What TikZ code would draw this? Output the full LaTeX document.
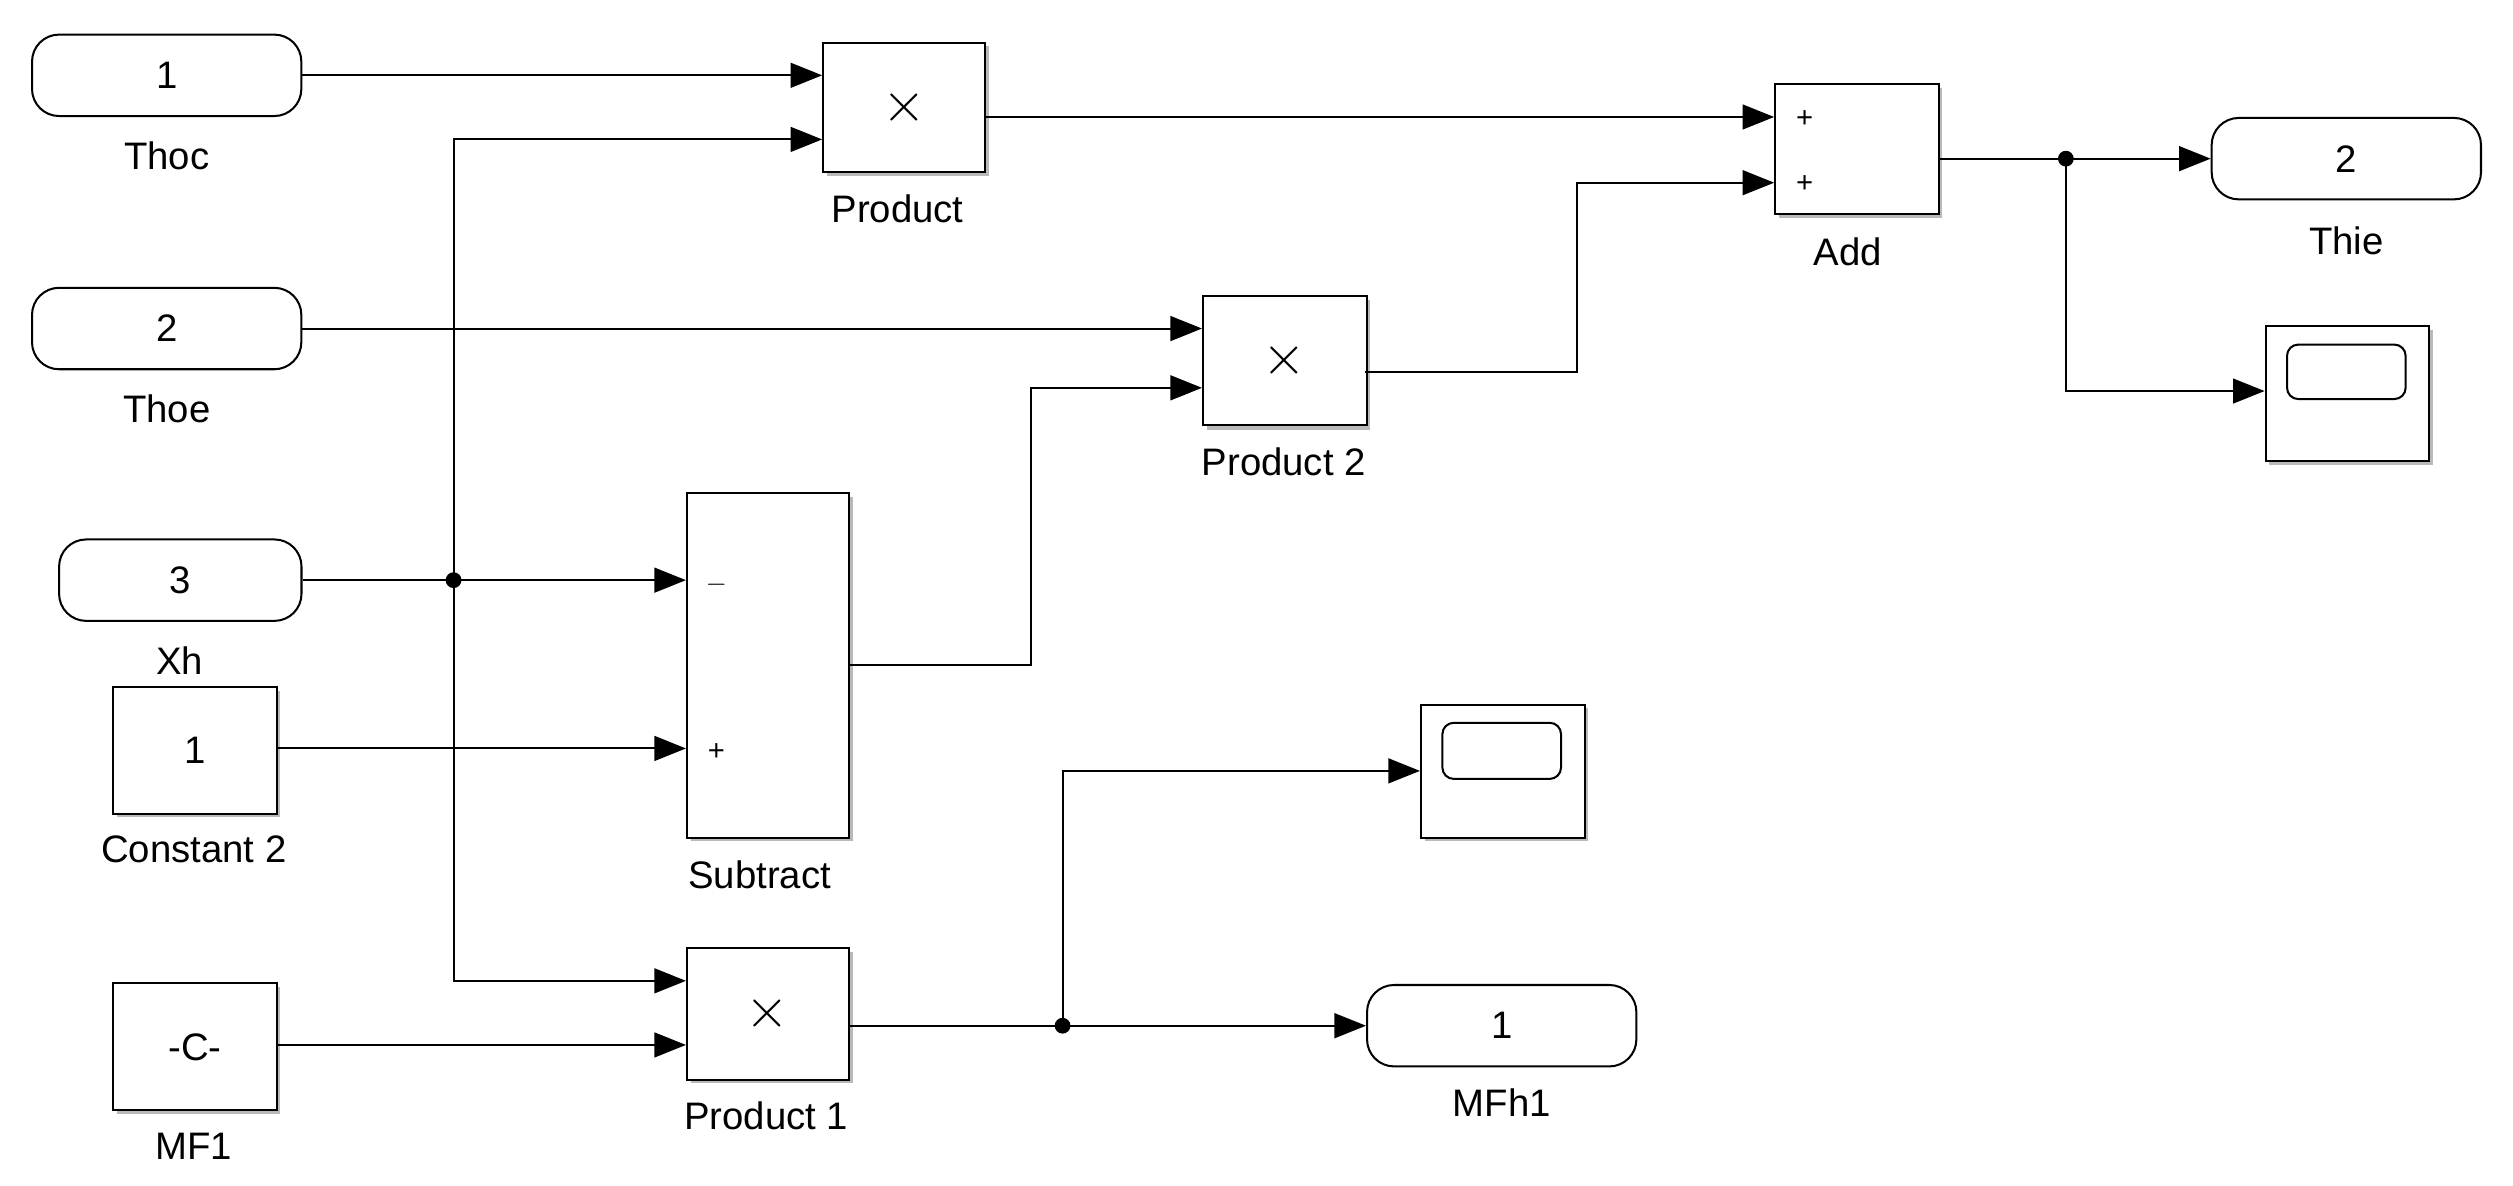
\documentclass[tikz,border=0pt]{standalone}
\usepackage{fontspec}
\setmainfont{Liberation Sans}
\usetikzlibrary{arrows.meta,positioning}
\begin{document}
\begin{tikzpicture}[x=0.025cm,y=-0.025cm,
  font=\fontsize{17}{20}\selectfont,
  blk/.style={draw,line width=0.9pt,fill=white,inner sep=0pt,anchor=north west},
  port/.style={draw,line width=0.9pt,fill=white,rounded corners=12pt,minimum width=4.2cm,minimum height=1.27cm,inner sep=0pt},
  w/.style={line width=0.9pt,-{Triangle[length=14pt,width=11pt]}},
  dot/.style={circle,fill=black,inner sep=0pt,minimum size=7pt},
  lbl/.style={inner sep=0pt},
  mul/.style={font=\fontsize{26}{28}\selectfont}]
\useasboundingbox (0,0) rectangle (1568,740);
\foreach \a/\b/\c/\d in {513/26/614/107,750/184/852/265,428/307/529/522,428/591/529/673,1107/52/1209/133,1413/203/1515/287,886/439/988/522,70/428/172/507,70/613/172/692}
  \fill[gray!55] (\a+3,\b+3) rectangle (\c+3,\d+3);
% inports / outports
\node[port] (thoc) at (104,47) {1};
\node[lbl] (thocl) at (104,97) {Thoc};
\node[port] (thoe) at (104,205) {2};
\node[lbl] (thoel) at (104,255) {Thoe};
\node[port,minimum width=3.78cm] (xh) at (112.5,362) {3};
\node[lbl] (xhl) at (112,412) {Xh};
\node[port] (thie) at (1464,99) {2};
\node[lbl] (thiel) at (1464,150) {Thie};
\node[port] (mfh) at (937,640) {1};
\node[lbl] (mfhl) at (937,688) {MFh1};
% blocks
\node[blk,minimum width=2.55cm,minimum height=1.98cm] (const) at (70,428) {};
\node (constt) at (const.center) {1};
\node[lbl] (constl) at (121,530) {Constant 2};
\node[blk,minimum width=2.55cm,minimum height=1.98cm] (mf) at (70,613) {};
\node (mft) at (mf.center) {-C-};
\node[lbl] (mfl) at (121,715) {MF1};
\node[blk,minimum width=2.52cm,minimum height=2.02cm] (prod) at (513,26) {};
\node[mul] (prodt) at (prod.center) {$\times$};
\node[lbl] (prodl) at (560,130) {Product};
\node[blk,minimum width=2.55cm,minimum height=2.02cm] (prod2) at (750,184) {};
\node[mul] (prod2t) at (prod2.center) {$\times$};
\node[lbl] (prod2l) at (801,288) {Product 2};
\node[blk,minimum width=2.52cm,minimum height=5.38cm] (sub) at (428,307) {};
\node[lbl] (subm) at (447,365) {\fontsize{12}{14}\selectfont $-$};
\node[lbl] (subp) at (447,469) {\fontsize{13}{15}\selectfont +};
\node[lbl] (subl) at (474,546) {Subtract};
\node[blk,minimum width=2.52cm,minimum height=2.05cm] (prod1) at (428,591) {};
\node[mul] (prod1t) at (prod1.center) {$\times$};
\node[lbl] (prod1l) at (478,696) {Product 1};
\node[blk,minimum width=2.55cm,minimum height=2.02cm] (add) at (1107,52) {};
\node[lbl] (addp1) at (1126,74) {\fontsize{13}{15}\selectfont +};
\node[lbl] (addp2) at (1126,115) {\fontsize{13}{15}\selectfont +};
\node[lbl] (addl) at (1153,157) {Add};
\node[blk,minimum width=2.55cm,minimum height=2.1cm] (sc1) at (1413,203) {};
\draw[line width=0.9pt,rounded corners=5pt] (1427,215) rectangle (1501,249);
\node[blk,minimum width=2.55cm,minimum height=2.08cm] (sc2) at (886,439) {};
\draw[line width=0.9pt,rounded corners=5pt] (900,451) rectangle (974,486);
% junctions
\coordinate (jx) at (283,362);
\coordinate (ja) at (1289,99);
\coordinate (jp) at (663,640);
% wires
\draw[w] (thoc.east) -- (513,47);
\draw[w] (jx) -- (283,87) -- (513,87);
\draw[w] (xh.east) -- (428,362);
\draw[w] (jx) -- (283,612) -- (428,612);
\draw[w] (thoe.east) -- (750,205);
\draw[w] (const.east |- 0,467) -- (428,467);
\draw[w] (mf.east |- 0,652) -- (428,652);
\draw[w] (529,415) -- (643,415) -- (643,242) -- (750,242);
\draw[w] (614,73) -- (1107,73);
\draw[w] (852,232) -- (984,232) -- (984,114) -- (1107,114);
\draw[w] (1209,99) -- (thie.west);
\draw[w] (ja) -- (1289,244) -- (1413,244);
\draw[w] (529,640) -- (mfh.west);
\draw[w] (jp) -- (663,481) -- (886,481);
\node[dot] at (jx) {};
\node[dot] at (ja) {};
\node[dot] at (jp) {};
\end{tikzpicture}
\end{document}
